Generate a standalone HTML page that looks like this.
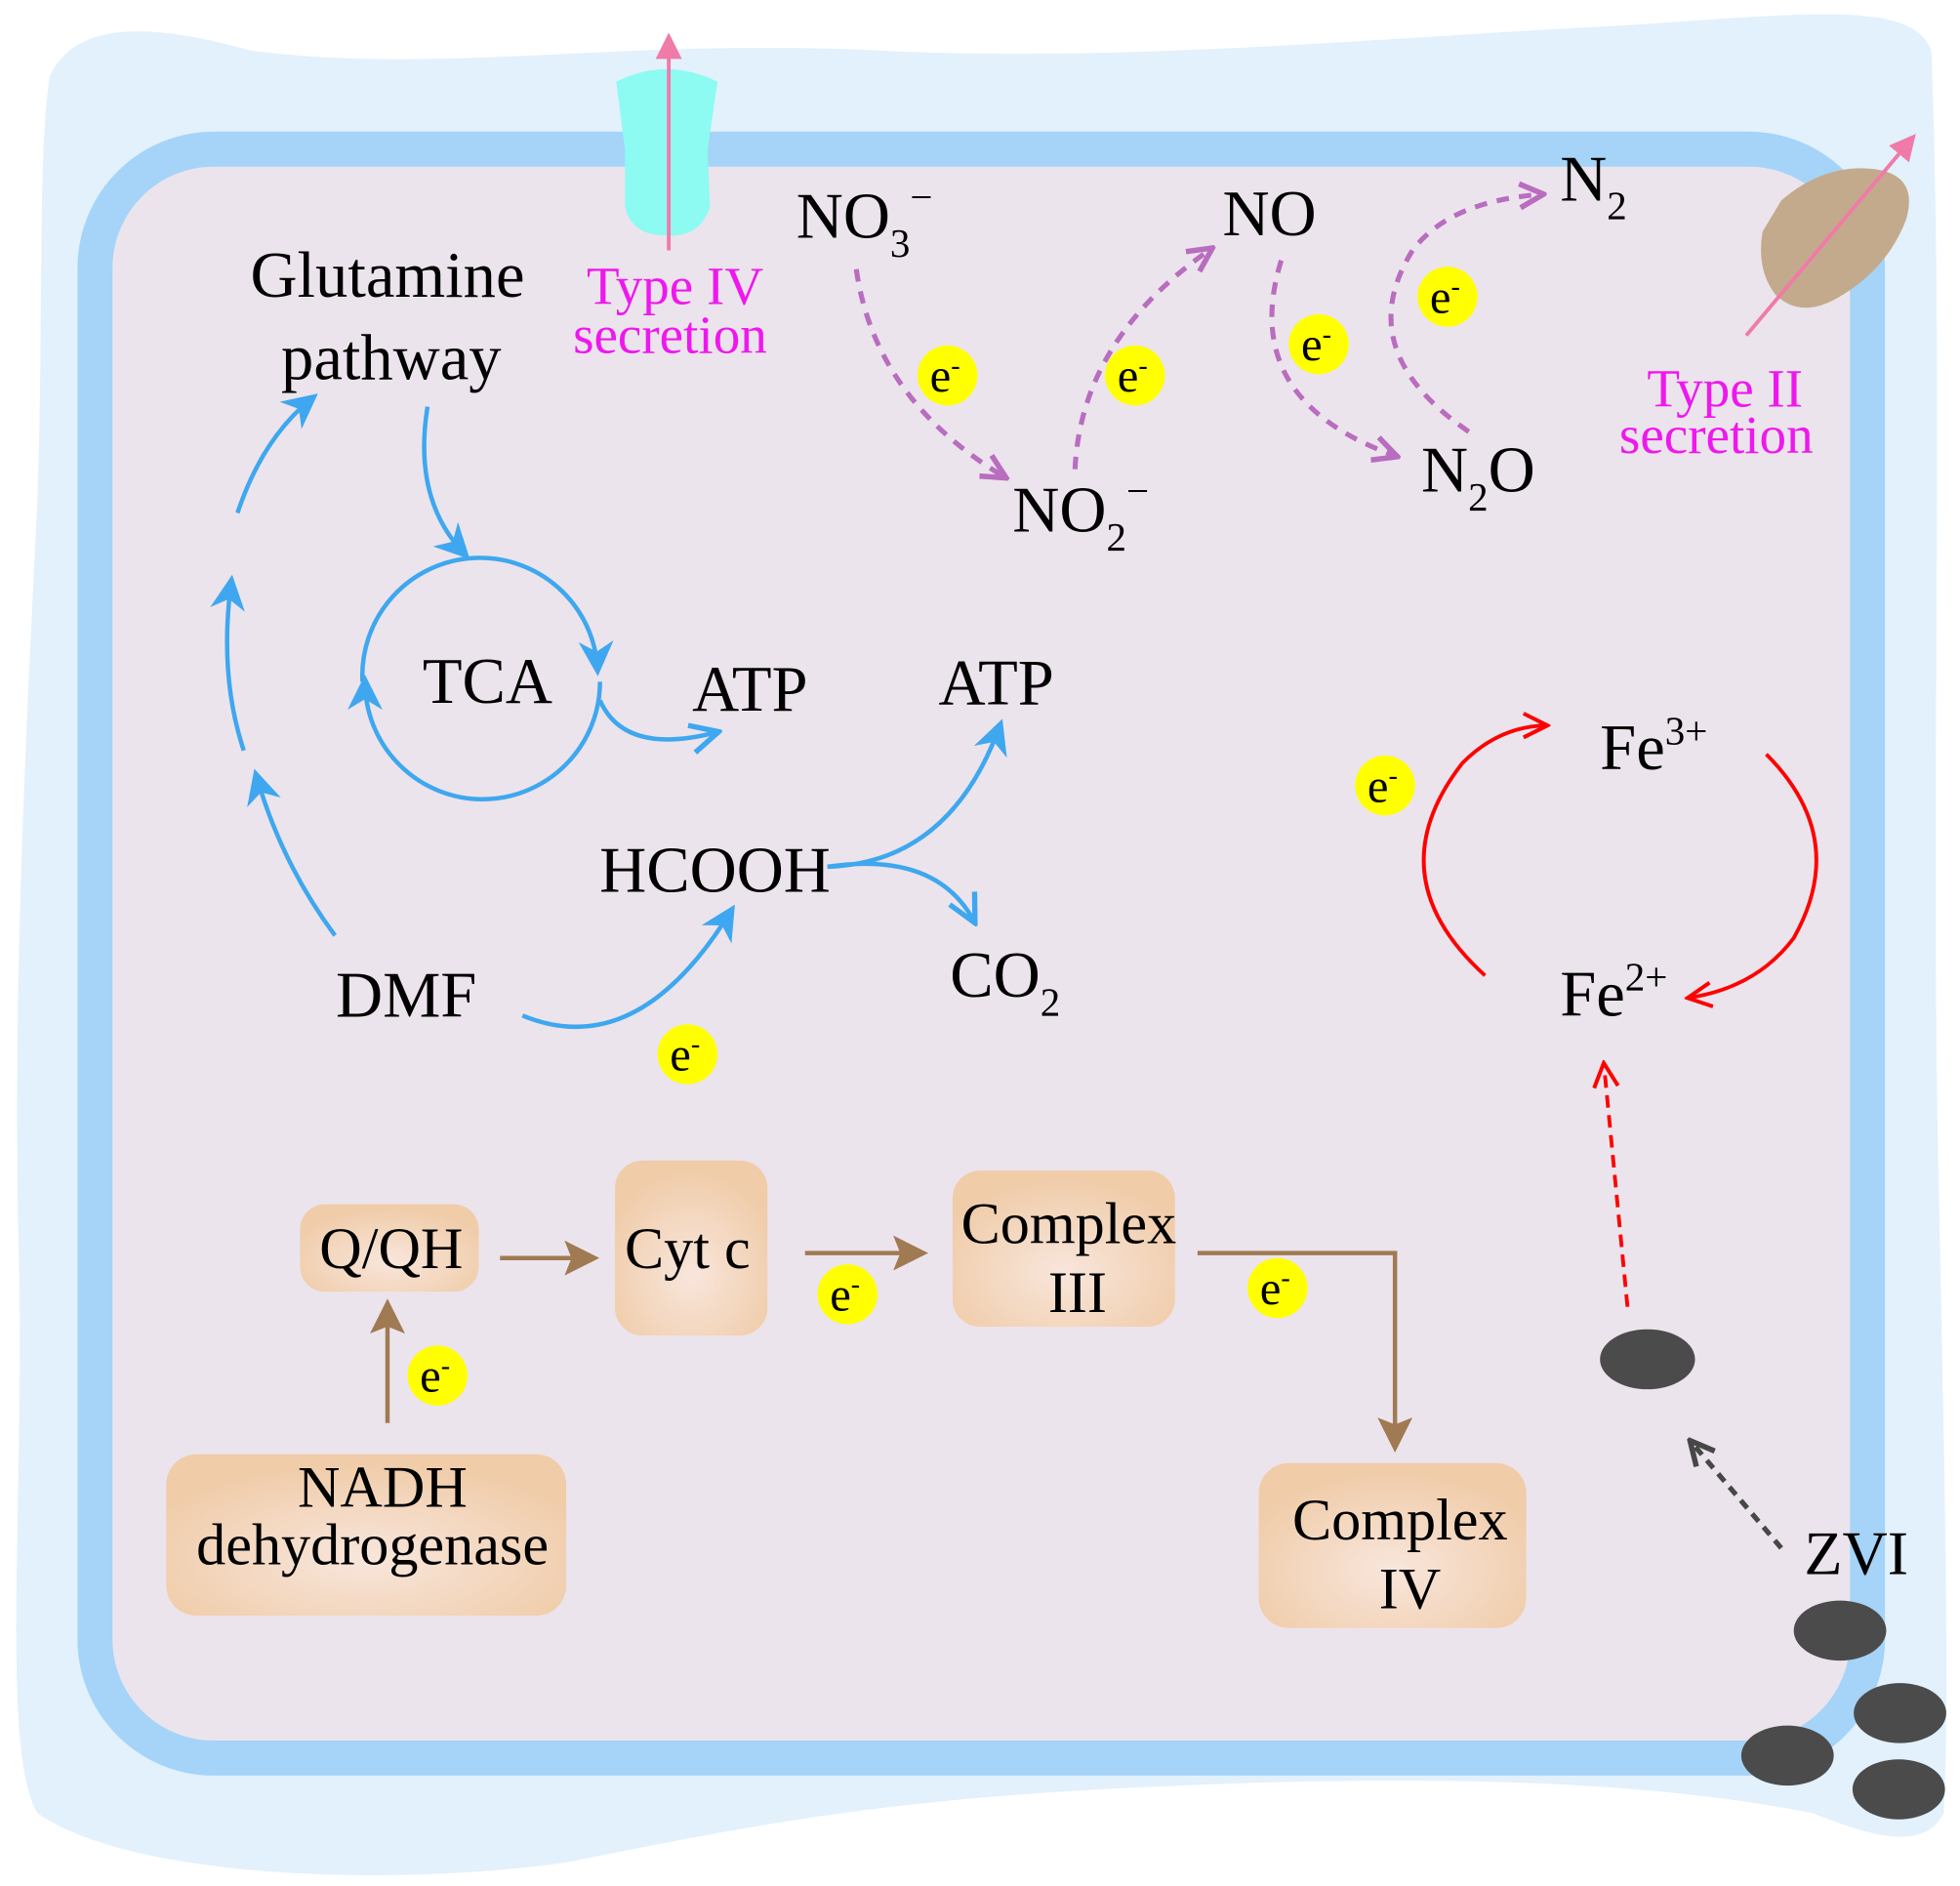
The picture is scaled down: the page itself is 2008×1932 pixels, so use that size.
<!DOCTYPE html>
<html><head><meta charset="utf-8"><style>
html,body{margin:0;padding:0;background:#fff;}
svg{display:block;}
text{font-family:"Liberation Serif",serif;fill:#000;}
</style></head><body>
<svg width="2008" height="1932" viewBox="0 0 1568 1508" xmlns="http://www.w3.org/2000/svg">
<defs>
<radialGradient id="bx" cx="50%" cy="65%" r="60%">
<stop offset="0" stop-color="#f8e6dc"/><stop offset="1" stop-color="#f0cca9"/>
</radialGradient>
<marker id="ab" viewBox="0 0 10 10" refX="8" refY="5" markerWidth="8" markerHeight="8" orient="auto-start-reverse"><path d="M0,0 L10,5 L0,10 L3,5z" fill="#3ea7ef"/></marker>
<marker id="abo" viewBox="0 0 10 10" refX="9" refY="5" markerWidth="8" markerHeight="8" orient="auto"><path d="M1,1 L9,5 L1,9" fill="none" stroke="#3ea7ef" stroke-width="1.5"/></marker>
<marker id="ap" viewBox="0 0 10 10" refX="9" refY="5" markerWidth="6" markerHeight="6" orient="auto"><path d="M1,1 L9,5 L1,9" fill="none" stroke="#b86dbf" stroke-width="1.8"/></marker>
<marker id="ar" viewBox="0 0 10 10" refX="9" refY="5" markerWidth="8" markerHeight="8" orient="auto"><path d="M1,1 L9,5 L1,9" fill="none" stroke="#f00" stroke-width="1.3"/></marker>
<marker id="abr" viewBox="0 0 10 10" refX="8" refY="5" markerWidth="8" markerHeight="8" orient="auto"><path d="M0,0 L10,5 L0,10 L2,5z" fill="#a07a52"/></marker>
<marker id="ag" viewBox="0 0 10 10" refX="9" refY="5" markerWidth="6" markerHeight="6" orient="auto"><path d="M1,1 L9,5 L1,9" fill="none" stroke="#474747" stroke-width="1.8"/></marker>
<marker id="apk" viewBox="0 0 10 10" refX="8" refY="5" markerWidth="7" markerHeight="7" orient="auto"><path d="M0,0 L10,5 L0,10z" fill="#f07aa8"/></marker>
</defs>
<path d="M40,60 C60,20 110,15 200,40 C350,60 500,30 700,40 C900,50 1100,30 1300,20 C1450,10 1530,0 1545,40 C1555,300 1545,600 1550,900 C1555,1150 1560,1350 1555,1450 C1540,1480 1500,1470 1450,1450 C1300,1420 1100,1420 900,1430 C700,1440 600,1460 450,1490 C300,1510 100,1500 30,1450 C0,1400 20,1200 15,1000 C10,800 20,600 30,400 C35,250 30,120 40,60z" fill="#e2f1fc"/>
<rect x="76" y="119" width="1418" height="1287" rx="95" fill="#ece4ec" stroke="#a5d4f8" stroke-width="28"/>
<path d="M493,65 Q533,45 574,65 L566,120 L568,165 Q560,190 533,188 Q505,188 500,165 L500,120z" fill="#8dfbf2"/>
<line x1="535" y1="200" x2="535" y2="30" stroke="#f07aa8" stroke-width="3" marker-end="url(#apk)"/>
<text x="540" y="243" font-size="43" text-anchor="middle" style="fill:#ee18ee">Type IV</text>
<text x="536" y="282" font-size="43" text-anchor="middle" style="fill:#ee18ee">secretion</text>
<path d="M1425,160 Q1460,130 1500,135 Q1535,140 1525,175 Q1510,215 1470,238 Q1440,255 1420,235 Q1405,215 1410,185z" fill="#c4aa8c"/>
<line x1="1397" y1="268" x2="1530" y2="110" stroke="#f07aa8" stroke-width="3" marker-end="url(#apk)"/>
<text x="1380" y="325" font-size="43" text-anchor="middle" style="fill:#ee18ee">Type II</text>
<text x="1373" y="362" font-size="43" text-anchor="middle" style="fill:#ee18ee">secretion</text>
<g font-size="52">
<text x="637" y="190">NO<tspan font-size="32" dy="15">3</tspan><tspan font-size="32" dy="-37">−</tspan></text>
<text x="978" y="188">NO</text>
<text x="1248" y="160">N<tspan font-size="32" dy="15">2</tspan></text>
<text x="810" y="425">NO<tspan font-size="32" dy="15">2</tspan><tspan font-size="32" dy="-37">−</tspan></text>
<text x="1137" y="393">N<tspan font-size="32" dy="15">2</tspan><tspan dy="-15">O</tspan></text>
</g>
<g fill="none" stroke="#b86dbf" stroke-width="4" stroke-dasharray="10,8">
<path d="M685,215 Q700,320 805,382" marker-end="url(#ap)"/>
<path d="M860,375 Q865,270 970,198" marker-end="url(#ap)"/>
<path d="M1025,208 Q990,320 1118,365" marker-end="url(#ap)"/>
<path d="M1175,345 Q1080,280 1130,200 Q1160,160 1235,155" marker-end="url(#ap)"/>
</g>
<g font-size="52">
<text x="310" y="237" text-anchor="middle">Glutamine</text>
<text x="313" y="303" text-anchor="middle">pathway</text>
<text x="390" y="562" text-anchor="middle">TCA</text>
<text x="600" y="568" text-anchor="middle">ATP</text>
<text x="797" y="563" text-anchor="middle">ATP</text>
<text x="572" y="713" text-anchor="middle">HCOOH</text>
<text x="760" y="797">CO<tspan font-size="32" dy="15">2</tspan></text>
<text x="325" y="813" text-anchor="middle">DMF</text>
</g>
<g fill="none" stroke="#3ea7ef" stroke-width="3.5">
<path d="M290,545 A93,93 0 0 1 478,535" marker-end="url(#ab)"/>
<path d="M480,545 A93,93 0 0 1 292,545" marker-end="url(#ab)"/>
<path d="M342,325 Q330,400 372,443" marker-end="url(#ab)"/>
<path d="M190,410 Q210,350 250,318" marker-end="url(#ab)"/>
<path d="M195,600 Q175,540 185,465" marker-end="url(#ab)"/>
<path d="M268,748 Q225,690 205,620" marker-end="url(#ab)"/>
<path d="M480,560 Q500,605 575,585" marker-end="url(#abo)"/>
<path d="M418,812 Q510,850 585,728" marker-end="url(#ab)"/>
<path d="M662,693 Q760,690 800,580" marker-end="url(#ab)"/>
<path d="M662,693 Q750,680 780,738" marker-end="url(#abo)"/>
</g>
<text x="1280" y="615" font-size="52">Fe<tspan font-size="32" dy="-20">3+</tspan></text>
<text x="1248" y="812" font-size="52">Fe<tspan font-size="32" dy="-20">2+</tspan></text>
<g fill="none" stroke="#f00" stroke-width="3">
<path d="M1188,780 Q1100,700 1170,610 Q1200,580 1238,580" marker-end="url(#ar)"/>
<path d="M1413,603 Q1480,670 1435,750 Q1405,790 1350,798" marker-end="url(#ar)"/>
<path d="M1302,1045 L1283,850" stroke-dasharray="10,6" marker-end="url(#ar)"/>
</g>
<g fill="url(#bx)">
<rect x="240" y="963" width="143" height="70" rx="20"/>
<rect x="492" y="928" width="122" height="140" rx="22"/>
<rect x="762" y="936" width="178" height="125" rx="22"/>
<rect x="133" y="1163" width="320" height="129" rx="24"/>
<rect x="1007" y="1170" width="214" height="132" rx="24"/>
</g>
<g font-size="47" text-anchor="middle">
<text x="313" y="1014">Q/QH</text>
<text x="550" y="1014">Cyt c</text>
<text x="855" y="994">Complex</text>
<text x="862" y="1049">III</text>
<text x="306" y="1205">NADH</text>
<text x="298" y="1251">dehydrogenase</text>
<text x="1120" y="1231">Complex</text>
<text x="1128" y="1286">IV</text>
</g>
<g fill="none" stroke="#a07a52" stroke-width="3.5">
<path d="M400,1006 L474,1006" marker-end="url(#abr)"/>
<path d="M644,1002 L737,1002" marker-end="url(#abr)"/>
<path d="M310,1138 L310,1044" marker-end="url(#abr)"/>
<path d="M958,1002 L1116,1002 L1116,1156" marker-end="url(#abr)"/>
</g>
<g fill="#4b4b4b">
<ellipse cx="1318" cy="1087" rx="38" ry="24"/>
<ellipse cx="1472" cy="1304" rx="37" ry="24"/>
<ellipse cx="1520" cy="1370" rx="37" ry="24"/>
<ellipse cx="1430" cy="1404" rx="37" ry="24"/>
<ellipse cx="1519" cy="1431" rx="37" ry="24"/>
</g>
<text x="1485" y="1259" font-size="50" text-anchor="middle">ZVI</text>
<path d="M1425,1238 L1352,1152" fill="none" stroke="#474747" stroke-width="4" stroke-dasharray="8,6" marker-end="url(#ag)"/>
<g>
<g fill="#ffff00">
<circle cx="758" cy="300" r="24"/><circle cx="908" cy="300" r="24"/>
<circle cx="1055" cy="275" r="24"/><circle cx="1158" cy="237" r="24"/>
<circle cx="1108" cy="628" r="24"/><circle cx="550" cy="843" r="24"/>
<circle cx="678" cy="1035" r="24"/><circle cx="1022" cy="1030" r="24"/>
<circle cx="350" cy="1100" r="24"/>
</g>
<g font-size="38" text-anchor="middle">
<text x="756" y="313">e<tspan font-size="22" dy="-14">-</tspan></text>
<text x="906" y="313">e<tspan font-size="22" dy="-14">-</tspan></text>
<text x="1053" y="288">e<tspan font-size="22" dy="-14">-</tspan></text>
<text x="1156" y="250">e<tspan font-size="22" dy="-14">-</tspan></text>
<text x="1106" y="641">e<tspan font-size="22" dy="-14">-</tspan></text>
<text x="548" y="856">e<tspan font-size="22" dy="-14">-</tspan></text>
<text x="676" y="1048">e<tspan font-size="22" dy="-14">-</tspan></text>
<text x="1020" y="1043">e<tspan font-size="22" dy="-14">-</tspan></text>
<text x="348" y="1113">e<tspan font-size="22" dy="-14">-</tspan></text>
</g>
</g>
</svg>
</body></html>
